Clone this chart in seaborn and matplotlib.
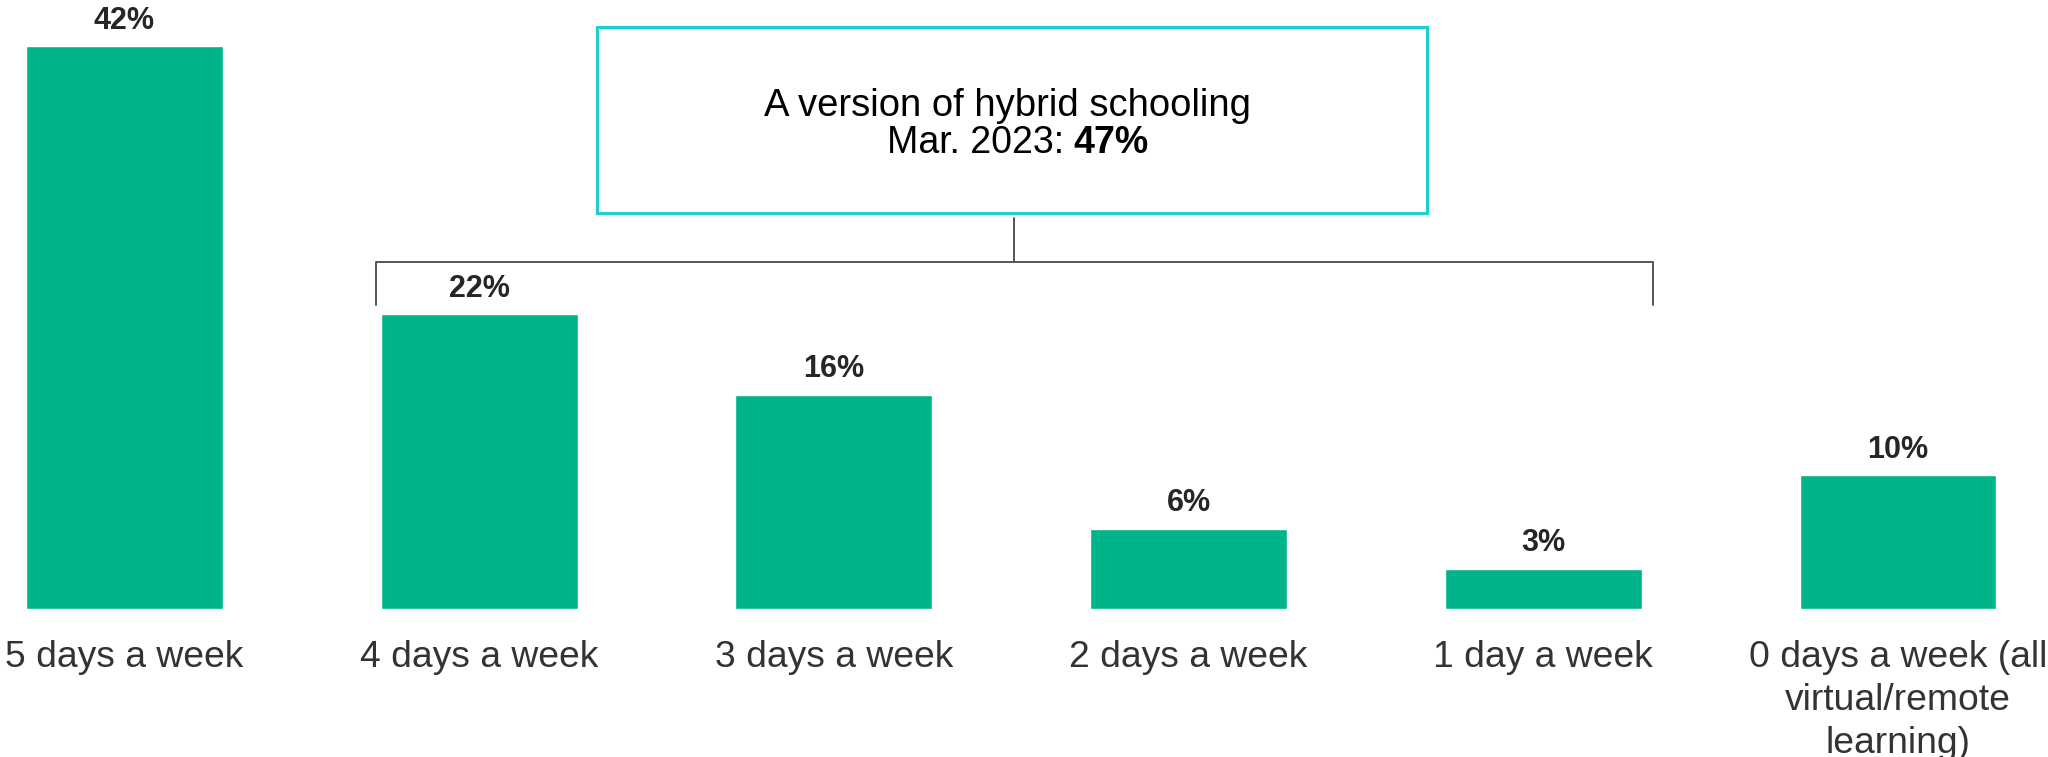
import pandas as pd
import seaborn as sns
import matplotlib.pyplot as plt
from matplotlib.patches import Rectangle

# Data
categories = [
    "5 days a week",
    "4 days a week",
    "3 days a week",
    "2 days a week",
    "1 day a week",
    "0 days a week (all\nvirtual/remote\nlearning)",
]
shares = [42, 22, 16, 6, 3, 10]
hybrid_title = "A version of hybrid schooling"
hybrid_prefix = "Mar. 2023:"
hybrid_value = "47%"

BAR_COLOR = "#00B48A"
BOX_COLOR = "#1ECFCF"
TEXT_COLOR = "#333333"

df = pd.DataFrame({"category": categories, "share": shares})

sns.set_theme(style="white")
plt.rcParams["font.family"] = ["Liberation Sans", "DejaVu Sans"]

W, H = 2048, 757
fig = plt.figure(figsize=(W / 100, H / 100), dpi=100)
ax = fig.add_axes([0, 148 / H, 1, (H - 148) / H])

sns.barplot(data=df, x="category", y="share", color=BAR_COLOR,
            width=0.555, saturation=1, ax=ax)

# scale: ~354.7 px per category, ~13.4 px per percent
ax.set_xlim(-0.351, 5.423)
ax.set_ylim(0, 45.43)

ax.bar_label(ax.containers[0], labels=[f"{v}%" for v in shares],
             padding=7.5, fontsize=22, fontweight="bold", color="#262626")

ax.set_xlabel("")
ax.set_ylabel("")
ax.set_yticks([])
ax.tick_params(axis="x", length=0, pad=22, labelsize=26.8, labelcolor=TEXT_COLOR)
for lbl in ax.get_xticklabels():
    lbl.set_multialignment("center")
    lbl.set_linespacing(1.3)
sns.despine(ax=ax, left=True, bottom=True)

# Hybrid box
box = Rectangle((1.332, 29.54), 3.672 - 1.332, 43.42 - 29.54,
                fill=False, edgecolor=BOX_COLOR, linewidth=2.2, clip_on=False)
ax.add_patch(box)
ax.text(2.49, 37.55, hybrid_title, ha="center", va="center",
        fontsize=27.5, color="black")
ax.text(2.648, 34.75, hybrid_prefix, ha="right", va="center",
        fontsize=27, color="black")
ax.annotate(hybrid_value, xy=(2.648, 34.75), xytext=(7, 0),
            textcoords="offset points", ha="left", va="center",
            fontsize=27, fontweight="bold", color="black")

# Bracket
line_kw = dict(color="#555555", linewidth=1.4, clip_on=False)
ax.plot([2.509, 2.509], [29.2, 25.9], **line_kw)
ax.plot([0.709, 0.709, 4.309, 4.309], [22.7, 25.9, 25.9, 22.7], **line_kw)

fig.savefig("out.png", dpi=100)
